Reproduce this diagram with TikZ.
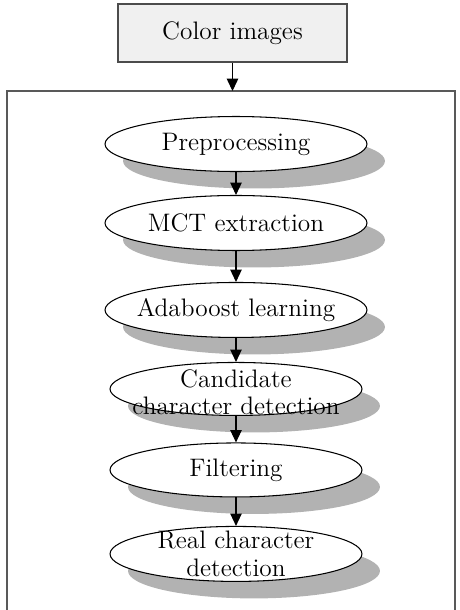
\documentclass[tikz,border=0pt]{standalone}
\usepackage{tikz}
\usetikzlibrary{arrows.meta,shapes,shadows,positioning}

\begin{document}
\begin{tikzpicture}[x=0.02cm, y=-0.02cm,
    stage/.style={draw, ellipse, fill=white, line width=0.6pt, inner sep=0pt,
      minimum width=5.24cm, minimum height=1.1cm,
      drop shadow={shadow xshift=0.36cm, shadow yshift=-0.34cm, fill=black!30, opacity=1}},
    txt/.style={font=\fontsize{14.4}{15.5}\selectfont, align=center, inner sep=0pt},
    arr/.style={-{Triangle[length=7pt, width=6.5pt]}, line width=0.6pt}]
    \clip (0,0) rectangle (460,610);

    \node[draw=black!70, fill=black!6, line width=1pt, minimum width=4.58cm, minimum height=1.16cm, txt] (color) at (232.5,33) {Color images};
    \draw[black!65, line width=1.1pt] (7,620) |- (455,91) -- (455,620);
    \coordinate (frametop) at (232.5,91);

    \node[stage] (pre) at (236,144) {};
    \node[stage, node distance=1.58cm, below of=pre] (mct) {};
    \node[stage, node distance=1.74cm, below of=mct] (ada) {};
    \node[stage, node distance=1.58cm, below of=ada, minimum width=5.04cm, minimum height=1.06cm] (cand) {};
    \node[stage, node distance=1.62cm, below of=cand, minimum width=5.04cm, minimum height=1.08cm] (filt) {};
    \node[stage, node distance=1.68cm, below of=filt, minimum width=5.04cm, minimum height=1.1cm] (real) {};

    \node[txt] (pretxt) at (pre) {Preprocessing};
    \node[txt] (mcttxt) at (mct) {MCT extraction};
    \node[txt] (adatxt) at (ada) {Adaboost learning};
    \node[txt] (candtxt) at ([yshift=-2pt]cand.center) {Candidate\\character detection};
    \node[txt] (filttxt) at (filt) {Filtering};
    \node[txt] (realtxt) at (real) {Real character\\detection};

    \draw[arr] (color) -- (frametop);
    \draw[arr] (pre) -- (mct);
    \draw[arr] (mct) -- (ada);
    \draw[arr] (ada) -- (cand);
    \draw[arr] (cand) -- (filt);
    \draw[arr] (filt) -- (real);
\end{tikzpicture}
\end{document}
